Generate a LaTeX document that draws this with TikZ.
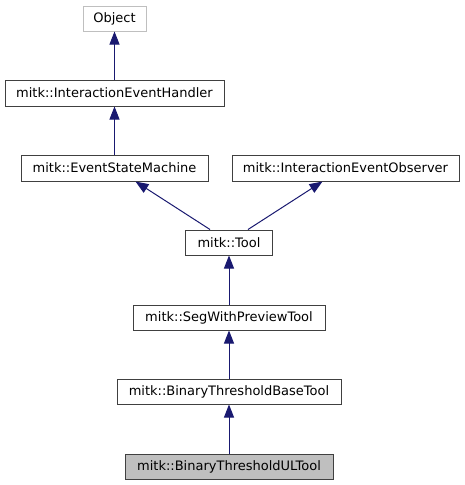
\documentclass[tikz,border=0pt]{standalone}
\usepackage{fontspec}
\setmainfont{DejaVu Sans}
\usetikzlibrary{arrows.meta}
\definecolor{edgeblue}{HTML}{191970}
\definecolor{boxline}{HTML}{404040}
\definecolor{boxgray}{HTML}{BFBFBF}
\begin{document}
\begin{tikzpicture}[x=1pt,y=-1pt,font=\fontsize{13}{15}\selectfont]
	\tikzstyle{every node}+=[inner sep=0pt]
	\tikzstyle{cls}=[draw=boxline, line width=1pt, fill=white, minimum height=25]
	\tikzstyle{inh}=[draw=edgeblue, line width=1pt, -{Triangle[length=13pt,width=10pt]}]
	\useasboundingbox (0,0) rectangle (464,485);
	\node [cls, draw=boxgray, minimum width=63] (object) at (114.5,18.5) {Object};
	\node [cls, minimum width=219, minimum height=26] (handler) at (114.5,93) {mitk::InteractionEventHandler};
	\node [cls, minimum width=187, minimum height=26] (esm) at (114.5,168) {mitk::EventStateMachine};
	\node [cls, minimum width=227, minimum height=26] (observer) at (345.5,168) {mitk::InteractionEventObserver};
	\node [cls, minimum width=87] (tool) at (229,242.5) {mitk::Tool};
	\node [cls, minimum width=192] (seg) at (229,317.5) {mitk::SegWithPreviewTool};
	\node [cls, minimum width=224] (base) at (229,391.5) {mitk::BinaryThresholdBaseTool};
	\node [cls, fill=boxgray, minimum width=208] (ul) at (229,466.5) {mitk::BinaryThresholdULTool};
	\draw [inh] (handler) -- (object);
	\draw [inh] (esm) -- (handler);
	\draw [inh] ([xshift=-19]tool.north) -- ([xshift=21]esm.south);
	\draw [inh] ([xshift=19]tool.north) -- ([xshift=-23]observer.south);
	\draw [inh] (seg) -- (tool);
	\draw [inh] (base) -- (seg);
	\draw [inh] (ul) -- (base);
\end{tikzpicture}
\end{document}
